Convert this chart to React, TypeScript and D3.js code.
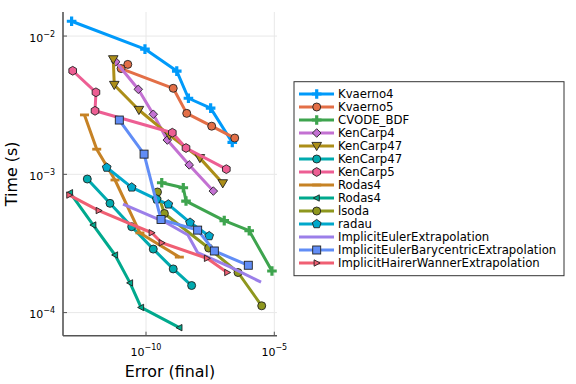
import React from "react";
import * as d3 from "d3";

// plot frame in page pixels
const W = 576;
const H = 384;
const box = { left: 63, right: 277, top: 12, bottom: 335.7 };
const FONT = "'DejaVu Sans', sans-serif";

const names = [
  "Kvaerno4",
  "Kvaerno5",
  "CVODE_BDF",
  "KenCarp4",
  "KenCarp47",
  "KenCarp47",
  "KenCarp5",
  "Rodas4",
  "Rodas4",
  "lsoda",
  "radau",
  "ImplicitEulerExtrapolation",
  "ImplicitEulerBarycentricExtrapolation",
  "ImplicitHairerWannerExtrapolation",
];
const colors = [
  "#009AFA", "#E36F47", "#3EA44E", "#C371D2", "#AC8E18", "#00AAAE", "#ED5E93",
  "#C68225", "#00A98D", "#8E971E", "#00A8CB", "#9B7FE9", "#618DF6", "#F05F73",
];
const shapes = [
  "cross", "circle", "cross", "diamond", "dtriangle", "circle", "hexagon",
  "hline", "ltriangle", "circle", "pentagon", "none", "rect", "rtriangle",
];

// error (final) and time (s) per solver
const kvaerno4Err = [1.26e-13, 9.1e-11, 1.58e-9, 4.5e-9, 3.3e-8, 2.3e-7];
const kvaerno4Time = [1.28e-2, 8.05e-3, 5.58e-3, 3.55e-3, 3.01e-3, 1.7e-3];
const kvaerno5Err = [1.95e-11, 1.07e-11, 1.15e-9, 3.86e-9, 3.63e-8, 2.87e-7];
const kvaerno5Time = [6.24e-3, 5.82e-3, 4.19e-3, 2.76e-3, 2.23e-3, 1.83e-3];
const cvodeErr = [4.1e-10, 2.84e-9, 3.62e-9, 1.12e-7, 1.05e-6, 8.1e-6];
const cvodeTime = [8.69e-4, 8.0e-4, 6.41e-4, 4.63e-4, 3.91e-4, 2.0e-4];
const kenCarp4Err = [6.6e-12, 5.0e-11, 1.92e-10, 6.76e-10, 4.83e-9, 4.2e-8];
const kenCarp4Time = [6.52e-3, 4.12e-3, 2.72e-3, 1.77e-3, 1.17e-3, 7.57e-4];
const kenCarp47aErr = [5.3e-12, 5.8e-12, 5.3e-11, 8.1e-10, 1.26e-8, 9.8e-8];
const kenCarp47aTime = [6.79e-3, 4.43e-3, 2.92e-3, 1.92e-3, 1.31e-3, 8.61e-4];
const kenCarp47bErr = [5.15e-13, 3.95e-12, 2.77e-11, 1.92e-10, 1.15e-9, 6.0e-9];
const kenCarp47bTime = [9.25e-4, 6.17e-4, 4.18e-4, 2.88e-4, 2.07e-4, 1.57e-4];
const kenCarp5Err = [1.39e-13, 1.12e-12, 1.03e-12, 1.06e-9, 3.62e-9, 1.35e-7];
const kenCarp5Time = [5.61e-3, 3.92e-3, 2.88e-3, 2.0e-3, 1.55e-3, 1.09e-3];
const rodas4aErr = [4.0e-13, 1.2e-12, 6.2e-12, 5.8e-11, 1.99e-9];
const rodas4aTime = [2.69e-3, 1.52e-3, 9.1e-4, 3.77e-4, 2.52e-4];
const rodas4bErr = [1.09e-13, 8.8e-13, 6.2e-12, 2.38e-11, 6.4e-11, 2.0e-9];
const rodas4bTime = [7.36e-4, 4.3e-4, 2.61e-4, 1.64e-4, 1.09e-4, 7.78e-5];
const lsodaErr = [2.8e-10, 5.2e-10, 2.77e-8, 3.85e-7, 3.23e-6];
const lsodaTime = [7.45e-4, 5.21e-4, 2.93e-4, 1.95e-4, 1.12e-4];
const radauErr = [2.94e-12, 2.77e-11, 2.61e-10, 7.4e-10, 5.2e-9, 2.9e-8];
const radauTime = [1.12e-3, 8.05e-4, 6.6e-4, 6.07e-4, 4.48e-4, 3.58e-4];
const ieeErr = [1.27e-11, 5.5e-10, 4.3e-9, 1.02e-8, 1.88e-7, 3.04e-6];
const ieeTime = [6.1e-4, 4.52e-4, 3.64e-4, 2.72e-4, 2.14e-4, 1.66e-4];
const iebeErr = [9.1e-12, 8.4e-11, 3.85e-10, 1.03e-8, 4.6e-8, 9.7e-7];
const iebeTime = [2.47e-3, 1.4e-3, 4.71e-4, 3.95e-4, 2.79e-4, 2.2e-4];
const ihweErr = [1.03e-13, 1.44e-12, 1.67e-10, 4.1e-10, 2.38e-8, 1.47e-7];
const ihweTime = [7.08e-4, 5.47e-4, 3.78e-4, 3.2e-4, 2.47e-4, 1.95e-4];

const errs = [
  kvaerno4Err, kvaerno5Err, cvodeErr, kenCarp4Err, kenCarp47aErr, kenCarp47bErr,
  kenCarp5Err, rodas4aErr, rodas4bErr, lsodaErr, radauErr, ieeErr, iebeErr, ihweErr,
];
const times = [
  kvaerno4Time, kvaerno5Time, cvodeTime, kenCarp4Time, kenCarp47aTime, kenCarp47bTime,
  kenCarp5Time, rodas4aTime, rodas4bTime, lsodaTime, radauTime, ieeTime, iebeTime, ihweTime,
];

const xTicks = [1e-10, 1e-5];
const xTickExp = ["−10", "−5"];
const yTicks = [1e-2, 1e-3, 1e-4];
const yTickExp = ["−2", "−3", "−4"];

const x = d3.scaleLog().domain([10 ** -13.235, 10 ** -4.895]).range([box.left, box.right]);
const y = d3.scaleLog().domain([10 ** -4.167, 10 ** -1.826]).range([box.bottom, box.top]);

const poly = (pts: number[][]) => "M" + pts.map((p) => p.join(",")).join("L") + "Z";

const Marker = ({ shape, cx, cy, color }: { shape: string; cx: number; cy: number; color: string }) => {
  const stroke = "#222";
  const sw = 0.9;
  const t = `translate(${cx},${cy})`;
  if (shape === "circle") return <circle cx={cx} cy={cy} r={4} fill={color} stroke={stroke} strokeWidth={sw} />;
  if (shape === "cross") {
    const a = 4.8, b = 1.6;
    const d = poly([[-b, -a], [b, -a], [b, -b], [a, -b], [a, b], [b, b], [b, a], [-b, a], [-b, b], [-a, b], [-a, -b], [-b, -b]]);
    return <path transform={t} d={d} fill={color} />;
  }
  if (shape === "diamond") return <path transform={t} d={poly([[0, -4.3], [4.3, 0], [0, 4.3], [-4.3, 0]])} fill={color} stroke={stroke} strokeWidth={sw} />;
  if (shape === "dtriangle") return <path transform={t} d={poly([[-4.8, -3.6], [4.8, -3.6], [0, 4.6]])} fill={color} stroke={stroke} strokeWidth={sw} />;
  if (shape === "ltriangle") return <path transform={t} d={poly([[-3.4, 0], [2.6, -3.2], [2.6, 3.2]])} fill={color} stroke={stroke} strokeWidth={sw} />;
  if (shape === "rtriangle") return <path transform={t} d={poly([[3.4, 0], [-2.6, -3.2], [-2.6, 3.2]])} fill={color} stroke={stroke} strokeWidth={sw} />;
  if (shape === "rect") return <rect x={cx - 4} y={cy - 4} width={8} height={8} fill={color} stroke={stroke} strokeWidth={sw} />;
  if (shape === "hline") return <rect x={cx - 4.5} y={cy - 1.4} width={9} height={2.8} fill={color} />;
  if (shape === "hexagon" || shape === "pentagon") {
    const n = shape === "hexagon" ? 6 : 5;
    const r = shape === "hexagon" ? 4.4 : 4.6;
    const pts = d3.range(n).map((i) => {
      const a = -Math.PI / 2 + (i * 2 * Math.PI) / n;
      return [r * Math.cos(a), r * Math.sin(a)];
    });
    return <path transform={t} d={poly(pts)} fill={color} stroke={stroke} strokeWidth={sw} />;
  }
  return null;
};

const line = d3.line<number[]>().x((d) => x(d[0])).y((d) => y(d[1]));

export default function App() {
  const legendX = 294;
  const legendY = 81.7;
  const rowH = 13;
  return (
    <svg width={W} height={H} style={{ position: "absolute", left: 0, top: 0, fontFamily: FONT }}>
      <rect width={W} height={H} fill="#fff" />
      {/* grid */}
      {xTicks.map((v) => (
        <line key={"gx" + v} x1={x(v)} x2={x(v)} y1={box.top} y2={box.bottom} stroke="#e8e8e8" strokeWidth={1} />
      ))}
      {yTicks.map((v) => (
        <line key={"gy" + v} x1={box.left} x2={box.right} y1={y(v)} y2={y(v)} stroke="#e8e8e8" strokeWidth={1} />
      ))}
      {/* axes */}
      <line x1={box.left} x2={box.left} y1={box.top} y2={box.bottom} stroke="#555" strokeWidth={1.6} />
      <line x1={box.left} x2={box.right} y1={box.bottom} y2={box.bottom} stroke="#555" strokeWidth={1.6} />
      {xTicks.map((v, i) => (
        <g key={"tx" + v}>
          <line x1={x(v)} x2={x(v)} y1={box.bottom} y2={box.bottom - 4} stroke="#555" strokeWidth={1} />
          <text x={x(v)} y={356} textAnchor="middle" fontSize={11}>
            10<tspan fontSize={8} dy={-6}>{xTickExp[i]}</tspan>
          </text>
        </g>
      ))}
      {yTicks.map((v, i) => (
        <g key={"ty" + v}>
          <line x1={box.left} x2={box.left + 4} y1={y(v)} y2={y(v)} stroke="#555" strokeWidth={1} />
          <text x={55} y={y(v) + 5.5} textAnchor="end" fontSize={11}>
            10<tspan fontSize={8} dy={-5}>{yTickExp[i]}</tspan>
          </text>
        </g>
      ))}
      <text x={(box.left + box.right) / 2} y={377} textAnchor="middle" fontSize={15.9}>
        Error (final)
      </text>
      <text transform={`translate(17,${(box.top + box.bottom) / 2}) rotate(-90)`} textAnchor="middle" fontSize={15.9}>
        Time (s)
      </text>
      {/* series */}
      <g>
        {names.map((n, i) => {
          const pts = errs[i].map((e, j) => [e, times[i][j]]);
          return (
            <g key={"s" + i}>
              <path d={line(pts) || ""} fill="none" stroke={colors[i]} strokeWidth={3} strokeLinejoin="round" />
              {pts.map((p, j) => (
                <Marker key={j} shape={shapes[i]} cx={x(p[0])} cy={y(p[1])} color={colors[i]} />
              ))}
            </g>
          );
        })}
      </g>
      {/* legend */}
      <rect x={legendX} y={legendY} width={270} height={194} fill="#fff" stroke="#333" strokeWidth={1} />
      {names.map((n, i) => {
        const ry = 94 + i * rowH;
        return (
          <g key={"l" + i}>
            <line x1={299} x2={334} y1={ry} y2={ry} stroke={colors[i]} strokeWidth={3} />
            <Marker shape={shapes[i]} cx={316.7} cy={ry} color={colors[i]} />
            <text x={338} y={ry + 4.2} fontSize={11.7}>
              {n}
            </text>
          </g>
        );
      })}
    </svg>
  );
}
